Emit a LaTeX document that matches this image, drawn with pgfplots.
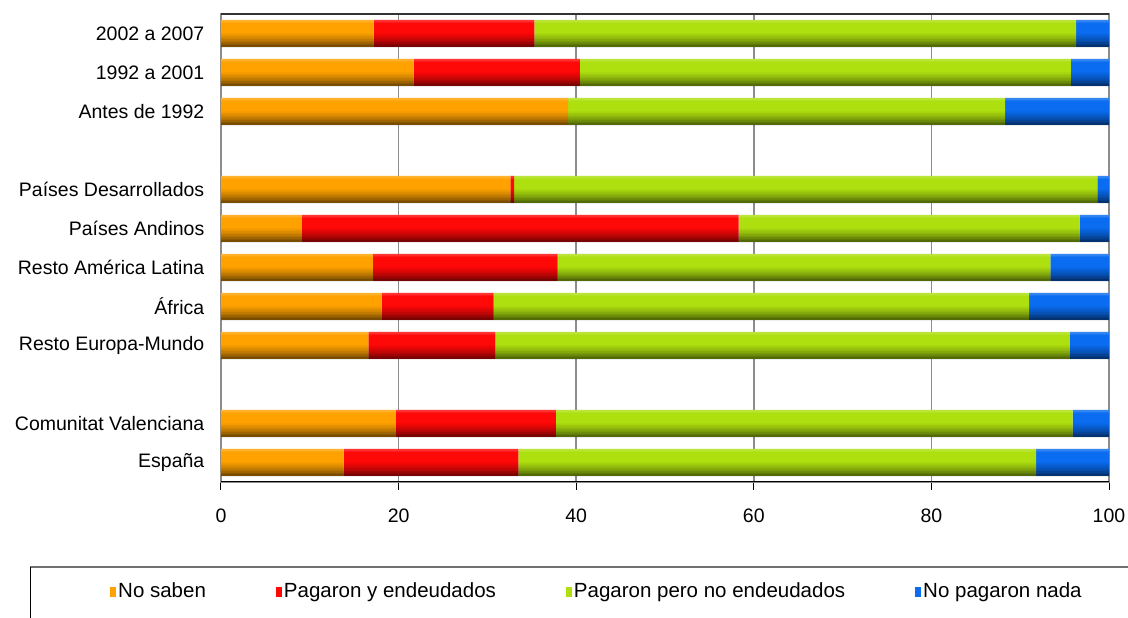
\documentclass[border=0pt]{standalone}
\usepackage{fontspec}
\setmainfont{Liberation Sans}
\usepackage{pgfplots}
\usepackage{pgfplotstable}
\pgfplotsset{compat=1.18}

\definecolor{cNS}{HTML}{FFA200}
\definecolor{cEN}{HTML}{FF0808}
\definecolor{cPN}{HTML}{AEE010}
\definecolor{cNN}{HTML}{0A6CF0}
\definecolor{gridc}{HTML}{8C8C8C}

% y: 0 = España ... 11 = 2002 a 2007 (2 and 8 are gaps)
\pgfplotstableread{
y x
0 13.8
1 19.7
3 16.6
4 18.1
5 17.1
6 9.1
7 32.6
9 39.1
10 21.7
11 17.2
}\nosaben
\pgfplotstableread{
y x
0 19.7
1 18.0
3 14.3
4 12.6
5 20.8
6 49.2
7 0.4
9 0.0
10 18.7
11 18.1
}\endeud
\pgfplotstableread{
y x
0 58.3
1 58.2
3 64.7
4 60.3
5 55.5
6 38.4
7 65.7
9 49.2
10 55.3
11 61.0
}\pagnoend
\pgfplotstableread{
y x
0 8.2
1 4.1
3 4.4
4 9.0
5 6.6
6 3.3
7 1.3
9 11.7
10 4.3
11 3.7
}\nada
% row totals, used for the shading strips
\pgfplotstableread{
y x
0 100
1 100
3 100
4 100
5 100
6 100
7 100
9 100
10 100
11 100
}\total

\pgfplotsset{
  frame/.style={
    at={(221pt,136pt)}, anchor=south west,
    scale only axis, width=888pt, height=468pt,
    xmin=0, xmax=100, ymin=-0.5, ymax=11.5,
  },
  strip/.style 2 args={draw=none, fill=#1, fill opacity=#2},
}

\begin{document}
\fontsize{19.5}{23}\selectfont
\begin{tikzpicture}
\begin{axis}[
  frame,
  xbar stacked, bar width=27pt,
  xtick={0,20,...,100}, xtick pos=bottom,
  xtick align=outside, major tick length=8pt,
  xtick style={black, line width=1pt},
  xmajorgrids, major grid style={gridc, line width=1.5pt},
  ytick={0,1,3,4,5,6,7,9,10,11},
  yticklabels={España, Comunitat Valenciana, Resto Europa-Mundo, África,
    Resto América Latina, Países Andinos, Países Desarrollados,
    Antes de 1992, 1992 a 2001, 2002 a 2007},
  ytick style={draw=none},
  y tick label style={xshift=-10pt},
  x tick label style={yshift=-12pt},
  tick label style={font=\fontsize{19.5}{23}\selectfont},
  /pgf/number format/assume math mode=true,
  axis line style={draw=gridc, line width=1.5pt},
  legend columns=4,
  legend cell align=left,
  legend image code/.code={\fill[#1] (0pt,-5pt) rectangle (6pt,5pt);},
  legend style={draw=none, fill=none, at={(-0.125,-0.235)}, anchor=west,
    inner sep=0pt, font=\fontsize{20.5}{24}\selectfont,
    nodes={inner xsep=2pt},
    /tikz/every even column/.append style={column sep=68pt}},
]
\addplot[draw=none, fill=cNS] table[x=x, y=y] {\nosaben};
\addplot[draw=none, fill=cEN] table[x=x, y=y] {\endeud};
\addplot[draw=none, fill=cPN] table[x=x, y=y] {\pagnoend};
\addplot[draw=none, fill=cNN] table[x=x, y=y] {\nada};
\legend{No saben, Pagaron y endeudados, Pagaron pero no endeudados, No pagaron nada}
\end{axis}

% vertical gradient of the bars: thin strips over each full row
\begin{axis}[frame, hide axis, xbar, bar width=1.6pt]
\addplot[strip={white}{0.18}, bar shift=12.75pt] table[x=x, y=y] {\total};
\addplot[strip={white}{0.07}, bar shift=11.25pt] table[x=x, y=y] {\total};
\addplot[strip={black}{0.04}, bar shift=-0.75pt] table[x=x, y=y] {\total};
\addplot[strip={black}{0.08}, bar shift=-2.25pt] table[x=x, y=y] {\total};
\addplot[strip={black}{0.12}, bar shift=-3.75pt] table[x=x, y=y] {\total};
\addplot[strip={black}{0.17}, bar shift=-5.25pt] table[x=x, y=y] {\total};
\addplot[strip={black}{0.22}, bar shift=-6.75pt] table[x=x, y=y] {\total};
\addplot[strip={black}{0.28}, bar shift=-8.25pt] table[x=x, y=y] {\total};
\addplot[strip={black}{0.35}, bar shift=-9.75pt] table[x=x, y=y] {\total};
\addplot[strip={black}{0.43}, bar shift=-11.25pt] table[x=x, y=y] {\total};
\addplot[strip={black}{0.52}, bar shift=-12.75pt] table[x=x, y=y] {\total};
\draw[black, line width=1.5pt] (rel axis cs:0,0) -- (rel axis cs:1,0);
\draw[black!80, line width=1.5pt] (rel axis cs:0,1) -- (rel axis cs:1,1);
\end{axis}

\draw[gridc!80!black, line width=2pt] (30pt,51pt) -- (1140pt,51pt);
\draw[black, line width=1pt] (30pt,51pt) -- (30pt,-10pt);
\pgfresetboundingbox
\path[use as bounding box] (0,0) rectangle (1128pt,618pt);
\end{tikzpicture}
\end{document}
